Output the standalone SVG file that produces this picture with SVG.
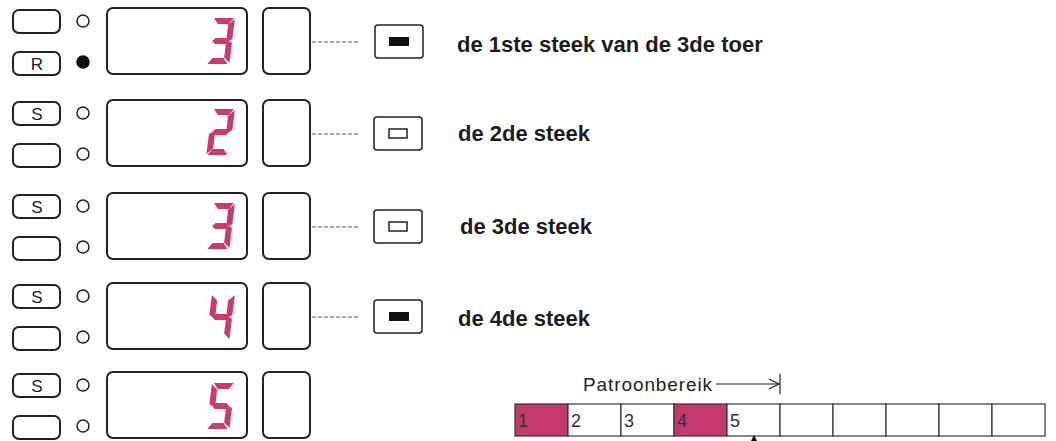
<svg xmlns="http://www.w3.org/2000/svg" xmlns:xlink="http://www.w3.org/1999/xlink" width="1056" height="441" viewBox="0 0 1056 441">
<style>
.box{fill:#fff;stroke:#222;stroke-width:2}
.led{fill:#fff;stroke:#222;stroke-width:1.5}
.ledon{fill:#111;stroke:#111;stroke-width:1.5}
.key{font-family:"Liberation Sans",Arial,sans-serif;font-size:17px;fill:#222;text-anchor:middle}
.seg{fill:#c93a6f}
.lbl{font-family:"Liberation Sans",Arial,sans-serif;font-size:22px;font-weight:bold;fill:#1c1c1c}
.ind{fill:#fff;stroke:#222;stroke-width:1.5}
.dash{stroke:#555;stroke-width:1;stroke-dasharray:4 2;fill:none}
.cell{fill:#fff;stroke:#333;stroke-width:1.2}
.cellon{fill:#c4396c;stroke:#333;stroke-width:1.2}
.num{font-family:"Liberation Sans",Arial,sans-serif;font-size:18px;fill:#333}
.title{font-family:"Liberation Sans",Arial,sans-serif;font-size:19px;letter-spacing:0.9px;fill:#222}
</style>
<defs>
<polygon id="sa" points="2,0 22,0 17.5,6 6.5,6"/>
<polygon id="sb" points="23,1 23,21 20,23 17,21 17,6.5"/>
<polygon id="sc" points="20,23 23,25 23,45 17,39.5 17,25.5"/>
<polygon id="sd" points="1,46 21,46 16.5,40 5.5,40"/>
<polygon id="se" points="0,25 3,23 6,25.5 6,39.5 0,45"/>
<polygon id="sf" points="0,1 6,6.5 6,21 3,23 0,21"/>
<polygon id="sg" points="3,23 6,20 17,20 20,23 17,26 6,26"/>
<marker id="open" viewBox="0 0 12 12" refX="11" refY="6" markerWidth="12" markerHeight="12" markerUnits="userSpaceOnUse" orient="auto">
<path d="M1,1 L11,6 L1,11" fill="none" stroke="#222" stroke-width="1.2"/>
</marker>
</defs>

<g id="row1" transform="translate(0,8)">
<rect class="box" x="13" y="2" width="47" height="23" rx="6"/>
<rect class="box" x="13" y="44" width="47" height="23" rx="6"/>
<text class="key" x="37" y="62">R</text>
<circle class="led" cx="83" cy="13" r="6"/>
<circle class="ledon" cx="83" cy="54" r="6"/>
<rect class="box" x="107" y="0" width="140" height="66" rx="6"/>
<g class="seg" transform="translate(212,10) skewX(-7)"><use xlink:href="#sa"/><use xlink:href="#sb"/><use xlink:href="#sc"/><use xlink:href="#sd"/><use xlink:href="#sg"/></g>
<rect class="box" x="263" y="0" width="47" height="66" rx="6"/>
</g>

<g id="row2" transform="translate(0,100)">
<rect class="box" x="13" y="2" width="47" height="23" rx="6"/>
<text class="key" x="37" y="20">S</text>
<rect class="box" x="13" y="44" width="47" height="23" rx="6"/>
<circle class="led" cx="83" cy="13" r="6"/>
<circle class="led" cx="83" cy="54" r="6"/>
<rect class="box" x="107" y="0" width="140" height="66" rx="6"/>
<g class="seg" transform="translate(212,9) skewX(-7)"><use xlink:href="#sa"/><use xlink:href="#sb"/><use xlink:href="#sg"/><use xlink:href="#se"/><use xlink:href="#sd"/></g>
<rect class="box" x="263" y="0" width="47" height="66" rx="6"/>
</g>

<g id="row3" transform="translate(0,193)">
<rect class="box" x="13" y="2" width="47" height="23" rx="6"/>
<text class="key" x="37" y="20">S</text>
<rect class="box" x="13" y="44" width="47" height="23" rx="6"/>
<circle class="led" cx="83" cy="13" r="6"/>
<circle class="led" cx="83" cy="54" r="6"/>
<rect class="box" x="107" y="0" width="140" height="66" rx="6"/>
<g class="seg" transform="translate(212,10) skewX(-7)"><use xlink:href="#sa"/><use xlink:href="#sb"/><use xlink:href="#sc"/><use xlink:href="#sd"/><use xlink:href="#sg"/></g>
<rect class="box" x="263" y="0" width="47" height="66" rx="6"/>
</g>

<g id="row4" transform="translate(0,283)">
<rect class="box" x="13" y="2" width="47" height="23" rx="6"/>
<text class="key" x="37" y="20">S</text>
<rect class="box" x="13" y="44" width="47" height="23" rx="6"/>
<circle class="led" cx="83" cy="13" r="6"/>
<circle class="led" cx="83" cy="54" r="6"/>
<rect class="box" x="107" y="0" width="140" height="66" rx="6"/>
<g class="seg" transform="translate(212,11) skewX(-7)"><use xlink:href="#sf"/><use xlink:href="#sb"/><use xlink:href="#sg"/><use xlink:href="#sc"/></g>
<rect class="box" x="263" y="0" width="47" height="66" rx="6"/>
</g>

<g id="row5" transform="translate(0,372)">
<rect class="box" x="13" y="2" width="47" height="23" rx="6"/>
<text class="key" x="37" y="20">S</text>
<rect class="box" x="13" y="44" width="47" height="23" rx="6"/>
<circle class="led" cx="83" cy="13" r="6"/>
<circle class="led" cx="83" cy="54" r="6"/>
<rect class="box" x="107" y="0" width="140" height="66" rx="6"/>
<g class="seg" transform="translate(212,11) skewX(-7)"><use xlink:href="#sa"/><use xlink:href="#sf"/><use xlink:href="#sg"/><use xlink:href="#sc"/><use xlink:href="#sd"/></g>
<rect class="box" x="263" y="0" width="47" height="66" rx="6"/>
</g>

<g id="connectors">
<line class="dash" x1="312" y1="42" x2="358" y2="42"/>
<line class="dash" x1="312" y1="134" x2="358" y2="134"/>
<line class="dash" x1="312" y1="227" x2="358" y2="227"/>
<line class="dash" x1="312" y1="317" x2="358" y2="317"/>
</g>

<g id="ind1">
<rect class="ind" x="375" y="25" width="48" height="33" rx="3"/>
<rect x="389" y="37" width="20" height="9" fill="#111"/>
<text class="lbl" x="457" y="52">de 1ste steek van de 3de toer</text>
</g>
<g id="ind2">
<rect class="ind" x="374" y="117" width="48" height="33" rx="3"/>
<rect x="389" y="129" width="18" height="9" fill="#fff" stroke="#222" stroke-width="1.5"/>
<text class="lbl" x="458" y="141">de 2de steek</text>
</g>
<g id="ind3">
<rect class="ind" x="374" y="210" width="48" height="33" rx="3"/>
<rect x="389" y="222" width="18" height="9" fill="#fff" stroke="#222" stroke-width="1.5"/>
<text class="lbl" x="460" y="234">de 3de steek</text>
</g>
<g id="ind4">
<rect class="ind" x="374" y="300" width="48" height="33" rx="3"/>
<rect x="389" y="312" width="20" height="9" fill="#111"/>
<text class="lbl" x="458" y="326">de 4de steek</text>
</g>

<g id="strip">
<text class="title" x="583" y="391">Patroonbereik</text>
<line x1="716" y1="384" x2="779" y2="384" stroke="#222" stroke-width="1.2" marker-end="url(#open)"/>
<line x1="780" y1="374" x2="780" y2="394" stroke="#222" stroke-width="1.2"/>
<rect class="cellon" x="515" y="404" width="53" height="32"/>
<rect class="cell" x="568" y="404" width="53" height="32"/>
<rect class="cell" x="621" y="404" width="53" height="32"/>
<rect class="cellon" x="674" y="404" width="53" height="32"/>
<rect class="cell" x="727" y="404" width="53" height="32"/>
<rect class="cell" x="780" y="404" width="53" height="32"/>
<rect class="cell" x="833" y="404" width="53" height="32"/>
<rect class="cell" x="886" y="404" width="53" height="32"/>
<rect class="cell" x="939" y="404" width="53" height="32"/>
<rect class="cell" x="992" y="404" width="53" height="32"/>
<text class="num" x="518" y="427">1</text>
<text class="num" x="571" y="427">2</text>
<text class="num" x="624" y="427">3</text>
<text class="num" x="677" y="427">4</text>
<text class="num" x="730" y="427">5</text>
<polygon points="754,435 751,441 757,441" fill="#111"/>
</g>
</svg>
